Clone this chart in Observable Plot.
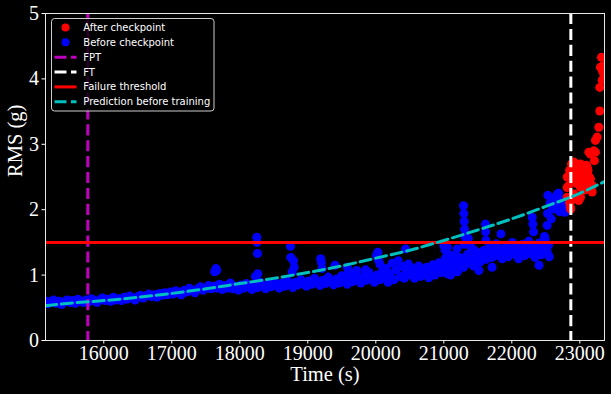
<!DOCTYPE html>
<html><head><meta charset="utf-8">
<script src="https://cdn.jsdelivr.net/npm/d3@7"></script>
<script src="https://cdn.jsdelivr.net/npm/@observablehq/plot@0.6"></script>
<style>html,body{margin:0;padding:0;background:#000;}</style>
</head><body><div id="chart"></div>
<script>
const xTicks = [16000, 17000, 18000, 19000, 20000, 21000, 22000, 23000];
const yTicks = [0, 1, 2, 3, 4, 5];
const thresholdRMS = 1.5;
const fptTime = 15765;
const ftTime = 22868;

const predictionTime = [15143, 15500, 16000, 16500, 17000, 17500, 18000, 18500, 19000, 19500, 20000, 20500, 21000, 21500, 22000, 22500, 23000, 23363];
const predictionRMS  = [0.53, 0.57, 0.61, 0.66, 0.72, 0.79, 0.87, 0.95, 1.04, 1.14, 1.26, 1.38, 1.53, 1.69, 1.86, 2.05, 2.25, 2.43];

const beforeCheckpoint = [
  [15160,0.60],[15180,0.56],[15220,0.58],[15260,0.62],[15300,0.57],[15340,0.60],[15380,0.55],[15420,0.59],[15460,0.62],[15500,0.58],
  [15540,0.61],[15580,0.57],[15620,0.63],[15660,0.60],[15700,0.58],[15740,0.62],[15780,0.59],[15820,0.64],[15860,0.61],[15900,0.58],
  [15940,0.62],[15980,0.65],[16020,0.61],[16060,0.63],[16100,0.60],[16140,0.66],[16180,0.62],[16220,0.64],[16260,0.61],[16300,0.66],
  [16340,0.63],[16380,0.68],[16420,0.65],[16460,0.62],[16500,0.67],[16540,0.69],[16580,0.65],[16620,0.68],[16660,0.71],[16700,0.67],
  [16740,0.70],[16780,0.66],[16820,0.72],[16860,0.69],[16900,0.73],[16940,0.70],[16980,0.74],[17020,0.71],[17060,0.76],[17100,0.73],
  [17140,0.70],[17180,0.77],[17220,0.74],[17260,0.80],[17300,0.76],[17340,0.73],[17380,0.79],[17420,0.82],[17460,0.77],[17500,0.80],
  [17540,0.84],[17580,0.79],[17620,0.83],[17630,1.05],[17650,1.10],[17660,1.07],
  [17660,0.80],[17700,0.86],[17740,0.78],[17780,0.84],[17820,0.80],[17860,0.88],[17900,0.79],[17940,0.83],[17980,0.77],[18020,0.85],
  [18060,0.80],[18100,0.87],[18140,0.82],[18180,0.78],[18220,0.86],[18260,0.81],[18300,0.89],[18340,0.83],[18380,0.79],[18420,0.86],
  [18460,0.82],[18500,0.90],[18540,0.84],[18580,0.80],[18620,0.88],[18660,0.83],[18700,0.92],[18740,0.86],[18780,0.81],[18820,0.89],
  [18860,0.85],[18900,0.93],[18940,0.87],[18980,0.83],[19020,0.91],[19060,0.86],[19100,0.95],[19140,0.89],[19180,0.84],[19220,0.92],
  [19260,0.87],[19300,0.97],[19340,0.90],[19380,0.85],[19420,0.94],[19460,0.88],[19500,0.99],[19540,0.92],[19580,0.86],[19620,0.96],
  [19660,0.90],[19700,1.02],[19740,0.94],[19780,0.88],[19820,0.98],[19860,0.92],[19900,1.04],[19940,0.95],[19980,0.89],[20020,1.00],
  [20060,0.93],[20100,1.06],[19720,1.07],[19850,1.08],
  [18250,1.58],[18255,1.50],[18260,1.33],[18265,1.02],[18230,0.98],
  [18745,1.44],[18750,1.27],[18790,1.22],[18800,1.12],[18770,1.05],
  [19190,1.25],[19200,1.19],[19210,1.10],[19400,1.15],[19580,1.12],[19600,1.06],
  [20010,1.30],[20040,1.23],[20060,1.17],
  [20120,0.95],[20150,1.10],[20180,0.89],[20210,1.02],[20240,1.18],[20270,0.93],[20300,1.08],[20330,1.22],[20360,0.98],[20390,1.13],
  [20420,0.95],[20450,1.05],[20480,1.17],[20510,1.00],[20540,1.10],[20570,0.95],[20600,1.05],[20630,1.14],[20660,0.98],[20690,1.08],
  [20720,1.02],[20750,1.12],[20780,0.96],[20810,1.06],[20840,1.16],[20870,1.00],[20900,1.10],[20930,1.19],[20960,1.04],[20990,1.14],
  [21020,1.25],[21050,1.08],[21080,1.18],[21110,1.30],[21140,1.12],[21170,1.22],[21200,1.05],[21230,1.16],[21260,1.26],[21290,1.12],
  [21320,1.22],[21350,1.32],[21380,1.18],[21410,1.27],[21440,1.14],[21470,1.24],[21500,1.34],[21530,1.20],[21560,1.29],[21590,1.38],
  [21620,1.24],[21650,1.33],[21680,1.44],[21710,1.27],[21740,1.37],[21770,1.48],[21800,1.30],[21830,1.40],[21860,1.25],[21890,1.35],
  [21920,1.45],[21950,1.28],[21980,1.38],[22010,1.50],[22040,1.32],[22070,1.42],[22100,1.25],[22130,1.36],[22160,1.47],[22190,1.30],
  [22220,1.40],[22250,1.52],[22280,1.33],[22310,1.43],[22340,1.27],[22370,1.38],[22400,1.49],[22430,1.31],[22460,1.42],[22490,1.55],
  [22520,1.35],[22540,1.46],[22550,1.28],
  [20030,1.35],[20437,1.40],[21000,1.45],[21020,1.38],[21050,1.43],[21060,1.32],[21090,1.04],[21100,1.00],[21050,1.02],[21195,1.40],
  [21200,1.28],[21290,2.06],[21295,1.94],[21300,1.82],[21305,1.70],[21310,1.59],[21300,1.47],[21360,1.56],[21400,1.43],[21450,1.38],
  [21515,1.07],[21612,1.78],[21615,1.66],[21620,1.53],[21710,1.12],[21840,1.63],[22300,1.88],[22310,1.78],[22320,1.66],[22400,1.15],
  [22480,1.59],[22520,1.76],[22525,1.94],[22530,2.22],[22580,1.86],[22600,2.01],[22650,2.09],[22670,2.24],[22740,2.14],[22760,2.04],
  [22700,1.97],[22780,1.96],[22690,2.25],[22865,2.19],[22560,2.10],[22620,2.18]
];

const afterCheckpoint = [
  [22815,2.50],[22815,2.34],[22815,2.19],[22840,2.37],[22865,2.01],[22878,2.70],[22888,2.65],[22888,2.15],[22900,2.55],[22912,2.24],
  [22912,2.73],[22930,2.45],[22960,2.63],[22960,2.40],[22985,2.14],[23010,2.50],[23010,2.34],[23010,2.70],[23010,2.19],[23040,2.58],
  [23060,2.45],[23080,2.36],[23097,2.68],[23110,2.55],[23110,2.65],[23120,2.60],[23133,2.88],[23157,2.47],[23157,2.85],[23182,2.37],
  [23182,2.27],[23170,2.29],[23206,2.90],[23215,2.75],[23230,3.06],[23230,2.88],[23255,3.11],[23280,3.26],[23294,3.51],[23294,3.87],
  [23304,4.18],[23318,4.33],[23330,3.98],[23330,4.13],[23350,4.08],[23340,4.20],[22850,2.60],[22945,2.52],[23030,2.42],[23140,2.50],
  [23070,2.30],[22990,2.60],[22850,2.10],[22860,2.04]
];

const prediction = predictionTime.map((t, i) => ({t, v: predictionRMS[i]}));

const legendItems = [
  {label: "After checkpoint", kind: "dot", color: "#ff0000"},
  {label: "Before checkpoint", kind: "dot", color: "#0000ff"},
  {label: "FPT", kind: "dash", color: "#bf00bf"},
  {label: "FT", kind: "dash", color: "#ffffff"},
  {label: "Failure threshold", kind: "solid", color: "#ff0000"},
  {label: "Prediction before training", kind: "dash", color: "#00bfbf"}
];

const dash = "11.1,4.8";
const chart = Plot.plot({
  width: 611, height: 394,
  marginTop: 13, marginRight: 7, marginBottom: 54, marginLeft: 45,
  style: {background: "#000", color: "#fff", fontFamily: "'Liberation Serif', 'Times New Roman', serif", fontSize: "20px"},
  x: {domain: [15143, 23363]},
  y: {domain: [0, 5]},
  marks: [
    Plot.dot(beforeCheckpoint, {x: d => d[0], y: d => d[1], r: 4.5, fill: "#0000ff", clip: true}),
    Plot.dot(afterCheckpoint, {x: d => d[0], y: d => d[1], r: 4.5, fill: "#ff0000", clip: true}),
    Plot.ruleX([fptTime], {stroke: "#bf00bf", strokeWidth: 3, strokeDasharray: dash}),
    Plot.ruleX([ftTime], {stroke: "#ffffff", strokeWidth: 3, strokeDasharray: dash}),
    Plot.ruleY([thresholdRMS], {stroke: "#ff0000", strokeWidth: 3}),
    Plot.line(prediction, {x: "t", y: "v", stroke: "#00bfbf", strokeWidth: 3, strokeDasharray: dash, curve: "monotone-x", clip: true}),
    Plot.frame({stroke: "#e8e8e8", strokeWidth: 1}),
    Plot.axisX({ticks: xTicks, tickFormat: d => String(d), tickSize: 3.5, tickPadding: 2, stroke: "#fff", label: null, fontSize: 20}),
    Plot.axisY({ticks: yTicks, tickFormat: d => String(d), tickSize: 3.5, tickPadding: 3, stroke: "#fff", label: null, fontSize: 20}),
    Plot.text(["Time (s)"], {text: d => d, frameAnchor: "bottom", dy: 40, fontSize: 20.5, fill: "#fff"}),
    Plot.text(["RMS (g)"], {text: d => d, frameAnchor: "left", dx: -30, rotate: -90, fontSize: 20.5, fill: "#fff"})
  ]
});
document.getElementById("chart").appendChild(chart);

// legend
const svg = d3.select(chart);
const lg = svg.append("g").attr("font-family", "'DejaVu Sans', sans-serif").attr("font-size", 10).attr("text-anchor", "start");
lg.append("rect").attr("x", 51.5).attr("y", 18.5).attr("width", 162.5).attr("height", 92.5)
  .attr("rx", 3).attr("fill", "#000").attr("fill-opacity", 0.8).attr("stroke", "#cccccc").attr("stroke-width", 1);
legendItems.forEach((it, i) => {
  const cy = 27.5 + i * 14.85;
  if (it.kind === "dot") {
    lg.append("circle").attr("cx", 65.5).attr("cy", cy).attr("r", 4).attr("fill", it.color);
  } else {
    lg.append("line").attr("x1", 54.5).attr("x2", 76.5).attr("y1", cy).attr("y2", cy)
      .attr("stroke", it.color).attr("stroke-width", 3)
      .attr("stroke-dasharray", it.kind === "dash" ? "12,4.5" : null);
  }
  lg.append("text").attr("x", 83.3).attr("y", cy).attr("dy", "0.35em").attr("text-anchor", "start").attr("fill", "#fff").text(it.label);
});
</script>
</body></html>
